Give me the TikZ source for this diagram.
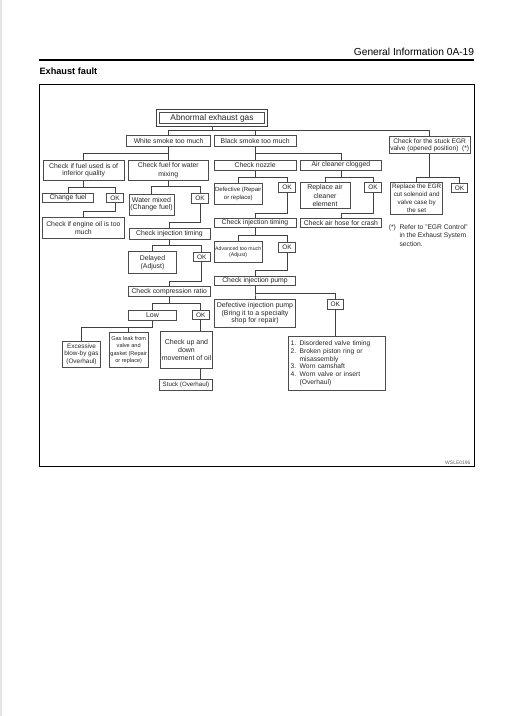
\documentclass[tikz,border=0pt]{standalone}
\usepackage{fontspec}
\setmainfont{Liberation Sans}
\newcommand{\fsz}[2]{\fontsize{#1}{#2}\selectfont}

\begin{document}
\begin{tikzpicture}[x=1pt, y=-1pt,
    box/.style={draw=black!70, line width=0.9pt, fill=white, inner sep=1pt, align=center, text=black!85, font=\fsz{6.85}{7.8}},
    bx/.style 2 args={box, minimum width=#1pt, minimum height=#2pt},
    ok/.style={bx={16.6}{9.8}, font=\fsz{6.5}{7.8}},
    wire/.style={draw=black!75, line width=0.8pt}]
    \useasboundingbox (0,0) rectangle (506,716);
    \fill[black!10] (0,0) rectangle (2,716);

    % Page header
    \node[anchor=east, inner sep=0, font=\fsz{10.2}{12}] (pagehead) at (474.3,52) {General Information 0A-19};
    \draw[line width=2pt] (39.3,59.6) -- (474.3,59.6);
    \node[anchor=west, inner sep=0, font=\bfseries\fsz{9.2}{11}] (title) at (39.3,71) {Exhaust fault};
    \draw[line width=1.2pt] (39.3,84.3) rectangle (474.3,466.5);

    % Top
    \node[bx={105.6}{11.2}, font=\fsz{8.35}{10}] (abn) at (212,118) {Abnormal exhaust gas};
    \draw[black!75, line width=1pt] ([shift={(-2.4pt,2.4pt)}]abn.north west) rectangle ([shift={(2.4pt,-2.4pt)}]abn.south east);
    \node[bx={83.8}{11}] (white) at (168.6,141.3) {White smoke too much};
    \node[bx={81.7}{11}] (black) at (255.2,141.3) {Black smoke too much};
    \node[bx={81}{16.6}, font=\fsz{6.6}{7.2}] (egr) at (429.7,145) {Check for the stuck EGR\\valve (opened position)~~(*)};

    % White smoke
    \node[bx={80.7}{20.7}] (fuelq) at (83.7,170.3) {Check if fuel used is of\\inferior quality};
    \node[bx={80.7}{20.7}, font=\fsz{6.85}{8.3}] (water) at (168.3,170.3) {Check fuel for water\\mixing};
    \node[bx={50.7}{9.4}] (chfuel) at (68,198) {Change fuel};
    \node[ok] (okfuel) at (115,198) {OK};
    \node[bx={81.3}{20.6}, font=\fsz{6.85}{7.3}] (engoil) at (83.4,228) {Check if engine oil is too\\much};
    \node[bx={45}{21}, font=\fsz{7}{7.3}] (wmix) at (151.5,204.5) {Water mixed\\(Change fuel)};
    \node[ok] (okwater) at (200,198.7) {OK};
    \node[bx={81}{10.7}] (injl) at (169.5,233.7) {Check injection timing};
    \node[bx={48.4}{21.6}, font=\fsz{6.9}{8.3}] (delayed) at (152.5,262.5) {Delayed\\(Adjust)};
    \node[ok] (okinjl) at (201.7,257) {OK};
    \node[bx={81.7}{10}] (comp) at (169.2,291.7) {Check compression ratio};
    \node[bx={48.4}{10.7}, font=\fsz{7}{8}] (low) at (152.5,315.3) {Low};
    \node[ok] (okcomp) at (200.7,315) {OK};
    \node[bx={38.4}{26.3}, font=\fsz{6.4}{7.6}] (excess) at (81.5,354.2) {Excessive\\blow-by gas\\(Overhaul)};
    \node[bx={39.3}{34.6}, font=\fsz{5.6}{7.5}] (gasleak) at (128.7,350) {Gas leak from\\valve and\\gasket (Repair\\or replace)};
    \node[bx={51.6}{36.6}, font=\fsz{7}{7.8}] (updown) at (186.5,350) {Check up and\\down\\movement of oil};
    \node[bx={53.4}{10.7}, font=\fsz{6.2}{7.5}] (stuck) at (186,384.7) {Stuck (Overhaul)};

    % Black smoke
    \node[bx={81.7}{10}] (nozzle) at (255.2,165) {Check nozzle};
    \node[bx={81.7}{10}] (aircl) at (340.9,165) {Air cleaner clogged};
    \node[bx={48.5}{21}, font=\fsz{6}{8}] (defnoz) at (238.3,193.5) {Defective (Repair\\or replace)};
    \node[ok] (oknoz) at (287,187.7) {OK};
    \node[bx={50}{25.6}, font=\fsz{7}{8.7}] (repair) at (325,195.5) {Replace air\\cleaner\\element};
    \node[ok] (okair) at (373,187.7) {OK};
    \node[bx={82}{9}] (injm) at (255,222.8) {Check injection timing};
    \node[bx={81.7}{9}] (hose) at (340.9,222.8) {Check air hose for crash};
    \node[bx={48.3}{21}, font=\fsz{5.2}{6.8}] (advanced) at (238.2,252.2) {Advanced too much\\(Adjust)};
    \node[ok] (okinjm) at (287,247.3) {OK};
    \node[bx={81.7}{9.7}] (pump) at (255,280.8) {Check injection pump};
    \node[bx={81.7}{28}, font=\fsz{7}{7.3}] (defpump) at (255,313.3) {Defective injection pump\\(Bring it to a specialty\\shop for repair)};
    \node[ok] (okpump) at (335.3,304.7) {OK};
    \node[bx={96.7}{53.3}, align=left, text width=92pt, font=\fsz{6.7}{7.7}] (causes) at (336.7,363.3) {1. Disordered valve timing\\2. Broken piston ring or\\\hphantom{2. }misassembly\\3. Worn camshaft\\4. Worn valve or insert\\\hphantom{4. }(Overhaul)};

    % EGR
    \node[bx={52}{31.3}, font=\fsz{6.3}{7.9}] (regr) at (416.7,198.3) {Replace the EGR\\cut solenoid and\\valve case by\\the set};
    \node[ok] (okegr) at (459.5,188) {OK};
    \node[anchor=north west, inner sep=0, align=left, text=black!85, font=\fsz{6.7}{8.5}] (note) at (388.6,224.3) {(*)\ \ Refer to "EGR Control"\\\hphantom{(*)\ \ }in the Exhaust System\\\hphantom{(*)\ \ }section.};
    \node[anchor=east, inner sep=0, text=black!60, font=\fsz{5}{6}] (code) at (470.7,462.7) {WSLE0196};

    % Connectors
    \draw[wire] ([yshift=-2.4pt]abn.south) -- ++(0,4.2) -| (white.north);
    \draw[wire] ([yshift=-2.4pt]abn.south) -- ++(0,4.2) -| (black.north);
    \draw[wire] ([yshift=-2.4pt]abn.south) -- ++(0,4.2) -| (egr.north);
    \draw[wire] (white.south) -- ++(0,5.7) -| (fuelq.north);
    \draw[wire] (white.south) -- ++(0,5.7) -| (water.north);
    \draw[wire] (black.south) -- ++(0,5.7) -| (nozzle.north);
    \draw[wire] (black.south) -- ++(0,5.7) -| (aircl.north);
    \draw[wire] (egr.south) -- ++(0,23.4) -| (regr.north);
    \draw[wire] (egr.south) -- ++(0,23.4) -| (okegr.north);

    \draw[wire] (fuelq.south) -- ++(0,6) -| (chfuel.north);
    \draw[wire] (fuelq.south) -- ++(0,6) -| (okfuel.north);
    \draw[wire] (okfuel.south) -- ++(0,7.8) -| (engoil.north);
    \draw[wire] (water.south) -- ++(0,5) -| (wmix.north);
    \draw[wire] (water.south) -- ++(0,5) -| (okwater.north);
    \draw[wire] (okwater.south) -- ++(0,18.6) -| (injl.north);
    \draw[wire] (injl.south) -- ++(0,6) -| (delayed.north);
    \draw[wire] (injl.south) -- ++(0,6) -| (okinjl.north);
    \draw[wire] (okinjl.south) -- ++(0,18.7) -| (comp.north);
    \draw[wire] (comp.south) -- ++(0,6) -| (low.north);
    \draw[wire] (comp.south) -- ++(0,6) -| (okcomp.north);
    \draw[wire] (low.south) -- ++(0,6.6) -| (excess.north);
    \draw[wire] (low.south) -- ++(0,6.6) -| (gasleak.north);
    \draw[wire] (okcomp.south) -- (okcomp.south |- updown.north);
    \draw[wire] (okcomp.south |- updown.south) -- (okcomp.south |- stuck.north);

    \draw[wire] (nozzle.south) -- ++(0,6.7) -| (defnoz.north);
    \draw[wire] (nozzle.south) -- ++(0,6.7) -| (oknoz.north);
    \draw[wire] (oknoz.south) -- ++(0,20) -| (injm.north);
    \draw[wire] (aircl.south) -- ++(0,6.7) -| (repair.north);
    \draw[wire] (aircl.south) -- ++(0,6.7) -| (okair.north);
    \draw[wire] (okair.south) -- ++(0,20.3) -| (hose.north);
    \draw[wire] (injm.south) -- ++(0,7.7) -| (advanced.north);
    \draw[wire] (injm.south) -- ++(0,7.7) -| (okinjm.north);
    \draw[wire] (okinjm.south) -- ++(0,17.7) -| (pump.north);
    \draw[wire] (pump.south) -- ++(0,7) -| (defpump.north);
    \draw[wire] (pump.south) -- ++(0,7) -| (okpump.north);
    \draw[wire] (okpump.south) -- (okpump.south |- causes.north);
\end{tikzpicture}
\end{document}
